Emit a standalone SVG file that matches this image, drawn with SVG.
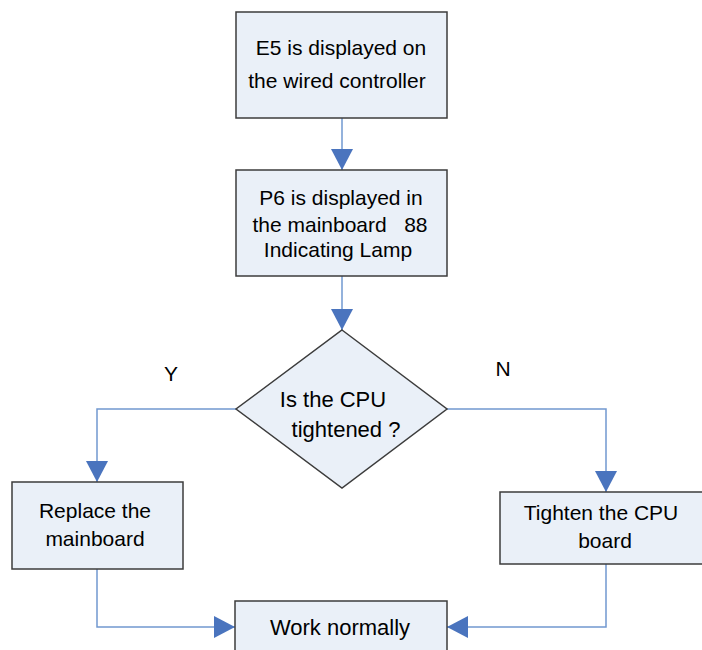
<svg xmlns="http://www.w3.org/2000/svg" width="702" height="650" viewBox="0 0 702 650">
<style>
.node{fill:#EAF0F8;stroke:#3C3C3C;stroke-width:1.5}
.t{font-family:"Liberation Sans",Arial,sans-serif;font-size:21px;fill:#000;text-anchor:middle}
.b{font-size:22px}
.c{fill:none;stroke:#7198D0;stroke-width:1.5}
</style>
<defs>
<marker id="ah" markerUnits="userSpaceOnUse" markerWidth="22" markerHeight="22" refX="21" refY="11" orient="auto">
<path d="M0,0 L21,11 L0,22 z" fill="#4A74BE"/>
</marker>
</defs>
<rect width="702" height="650" fill="#fff"/>
<g id="connectors">
<path class="c" d="M342,118 V170" marker-end="url(#ah)"/>
<path class="c" d="M342,276 V330" marker-end="url(#ah)"/>
<path class="c" d="M236,409 H97 V482" marker-end="url(#ah)"/>
<path class="c" d="M447,409 H606 V492" marker-end="url(#ah)"/>
<path class="c" d="M97,569 V627 H235" marker-end="url(#ah)"/>
<path class="c" d="M606,564 V627 H447" marker-end="url(#ah)"/>
<text class="t" x="171" y="381">Y</text>
<text class="t" x="503" y="376">N</text>
</g>
<g id="n1">
<rect class="node" x="236" y="12" width="211" height="106"/>
<text class="t" x="341" y="55">E5 is displayed on</text>
<text class="t" x="337" y="88">the wired controller</text>
</g>
<g id="n2">
<rect class="node" x="236" y="170" width="211" height="106"/>
<text class="t" x="341" y="205">P6 is displayed in</text>
<text class="t" x="340" y="232" xml:space="preserve">the mainboard   88</text>
<text class="t" x="338" y="257">Indicating Lamp</text>
</g>
<g id="n3">
<polygon class="node" points="342,330 447,409 342,488 236,409"/>
<text class="t b" x="333" y="407">Is the CPU</text>
<text class="t b" x="346" y="437">tightened ?</text>
</g>
<g id="n4">
<rect class="node" x="12" y="482" width="171" height="87"/>
<text class="t" x="95" y="518">Replace the</text>
<text class="t" x="95" y="546">mainboard</text>
</g>
<g id="n5">
<rect class="node" x="500" y="492" width="210" height="72"/>
<text class="t" x="601" y="520">Tighten the CPU</text>
<text class="t" x="605" y="548">board</text>
</g>
<g id="n6">
<rect class="node" x="235" y="601" width="212" height="60"/>
<text class="t b" x="340" y="635">Work normally</text>
</g>
</svg>
